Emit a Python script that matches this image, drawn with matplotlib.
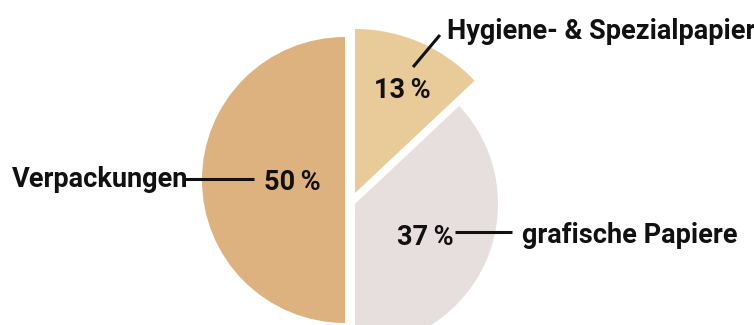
import matplotlib
matplotlib.use("Agg")
import matplotlib.pyplot as plt

# data
labels = ["Hygiene- & Spezialpapier", "grafische Papiere", "Verpackungen"]
shares = [13, 37, 50]
colors = ["#e9cb9a", "#e6dfdd", "#deb27f"]

plt.rcParams["font.family"] = ["Roboto", "DejaVu Sans"]

fig = plt.figure(figsize=(7.54, 3.25), dpi=100)
ax = fig.add_axes([0, 0, 1, 1])
wedges, _ = ax.pie(shares, colors=colors, startangle=90, counterclock=False,
                   wedgeprops=dict(edgecolor="none"))
# the slices are pulled apart by hand in the original graphic
wedges[0].set_center((0.035, -0.084)); wedges[0].set_radius(1.147)
wedges[1].set_center((0.035, -0.16))
wedges[2].set_center((-0.035, 0.007))

# pixel scale: 1 unit = 143 px, origin at (350, 181) px
ax.set_xlim(-350 / 143, 404 / 143)
ax.set_ylim(-144 / 143, 181 / 143)
ax.set_aspect("auto")
ax.axis("off")

tk = dict(fontsize=19.5, weight="bold", color="#111111")
# percent labels
ax.text(0.364, 0.636, f"{shares[0]}\u2009%", ha="center", va="center", **tk)
ax.text(0.524, -0.392, f"{shares[1]}\u2009%", ha="center", va="center", **tk)
ax.text(-0.406, -0.007, f"{shares[2]}\u2009%", ha="center", va="center", **tk)

# category labels with leader lines
lk = dict(color="#111111", lw=2.2, solid_capstyle="butt")
ax.plot([0.441, 0.629], [0.797, 1.021], **lk)
ax.text(0.678, 1.042, labels[0], ha="left", va="center", **tk)
ax.plot([0.734, 1.133], [-0.357, -0.357], **lk)
ax.text(1.203, -0.378, labels[1], ha="left", va="center", **tk)
ax.plot([-1.168, -0.671], [0.014, 0.014], **lk)
ax.text(-2.364, 0.007, labels[2], ha="left", va="center", **tk)

fig.savefig("out.png", dpi=100)
